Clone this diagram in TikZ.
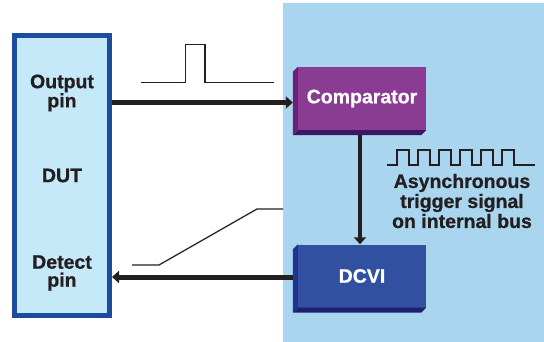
\documentclass[tikz,border=0pt]{standalone}
\usepackage{fontspec}
\setmainfont{Liberation Sans}[BoldFeatures={FakeBold=0.8}]
\usetikzlibrary{arrows.meta,positioning,calc}

\definecolor{panelblue}{HTML}{A9D5EF}
\definecolor{dutfill}{HTML}{C6E9F9}
\definecolor{dutedge}{HTML}{1D4B9E}
\definecolor{comppurple}{HTML}{8A3B92}
\definecolor{compside}{HTML}{6A1F79}
\definecolor{compbottom}{HTML}{3D1764}
\definecolor{dcviblue}{HTML}{3150A0}
\definecolor{dcviside}{HTML}{21358F}
\definecolor{dcvibottom}{HTML}{1B1F6E}
\definecolor{ink}{HTML}{231F20}

\tikzset{
  txt/.style={font=\fontsize{19.5}{18}\selectfont\bfseries, text=ink, align=center},
  block/.style={minimum width=128pt, minimum height=63pt, inner sep=0pt,
    font=\fontsize{19.5}{20}\selectfont\bfseries, text=white},
  bus/.style={line width=5pt, draw=ink, -{Triangle[length=7pt,width=12pt]}},
  wave/.style={line width=1.3pt, draw=ink},
}

\begin{document}
\begin{tikzpicture}[x=1pt, y=-1pt]
    \useasboundingbox (0,0) rectangle (544,342);

    % tester side
    \fill[panelblue] (283,3) rectangle (544,342);

    % device under test
    \node[draw=dutedge, fill=dutfill, line width=5pt, minimum width=95pt, minimum height=280pt,
          inner sep=0pt, txt] (dut) at (62,175.5) {DUT};
    \node[txt] (outpin) at (62,93) {Output\\pin};
    \node[txt] (detpin) at (62,273) {Detect\\pin};

    % instrument blocks
    \node[block, fill=comppurple] (comp) at (362,98.5) {Comparator};
    \node[block, fill=dcviblue] (dcvi) at (362,276) {DCVI};

    % give the blocks some depth
    \foreach \b/\s/\d in {comp/compside/compbottom, dcvi/dcviside/dcvibottom} {
        \fill[\s] (\b.north west) -- ++(-5,5) -- ($(\b.south west)+(-5,5)$) -- (\b.south west) -- cycle;
        \fill[\d] (\b.south west) -- ++(-5,5) -- ($(\b.south east)+(-5,5)$) -- (\b.south east) -- cycle;
    }

    % buses
    \draw[bus] ($(comp.west -| dut.east)+(0,4)$) -- ($(comp.west)+(-5,4)$);
    \draw[bus, line width=4.5pt] ($(comp.south)+(-2,5)$) -- ($(dcvi.north)+(-2,0)$);
    \draw[bus] ($(dcvi.west)+(-5,1)$) -- ($(dcvi.west -| dut.east)+(0,1)$);

    % output pulse
    \draw[wave] (141,82.5) -- (185.5,82.5) -- (185.5,44.5) -- (205,44.5) -- (205,82.5) -- (274,82.5);

    % detect ramp
    \draw[wave] (132,265) -- (159,265) -- (257,209) -- (283,209);

    % trigger on the internal bus
    \draw[wave, line width=1.8pt] (387,165)
        foreach \i in {0,...,5} { -- ({397+21*\i},165) -- ({397+21*\i},150) -- ({409+21*\i},150) -- ({409+21*\i},165) }
        -- (535,165);
    \node[txt, font=\fontsize{19.5}{20}\selectfont\bfseries] (trig) at (462,201)
        {Asynchronous\\trigger signal\\on internal bus};
\end{tikzpicture}
\end{document}
